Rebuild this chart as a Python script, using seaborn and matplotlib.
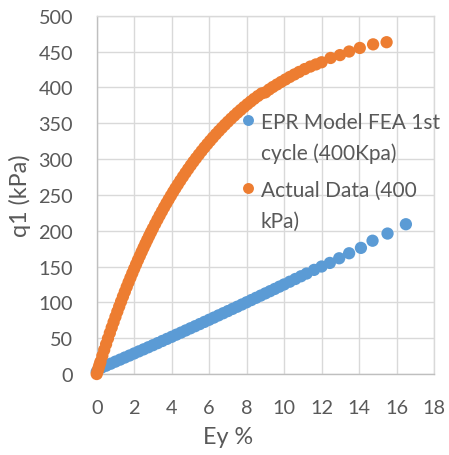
import numpy as np
import pandas as pd
import matplotlib
matplotlib.use("Agg")
import matplotlib.pyplot as plt
from matplotlib.legend_handler import HandlerPathCollection
import seaborn as sns

# EPR model (FEA, 1st cycle, 400 kPa): strain Ey (%) and deviator stress q1 (kPa)
epr_strain = [0.0, 0.25, 0.5, 0.75, 1.0, 1.25, 1.5, 1.75, 2.0, 2.25, 2.5, 2.75,
              3.0, 3.25, 3.5, 3.75, 4.0, 4.25, 4.5, 4.75, 5.0, 5.25, 5.5, 5.75,
              6.0, 6.25, 6.5, 6.75, 7.0, 7.25, 7.5, 7.75, 8.0, 8.25, 8.5, 8.75,
              9.0, 9.25, 9.5, 9.75, 10.0, 10.3, 10.6, 10.9, 11.2, 11.6, 12.0,
              12.44, 12.94, 13.47, 14.1, 14.72, 15.52, 16.5]
epr_q = [3.0, 8.8, 11.6, 14.4, 17.3, 20.1, 23.0, 25.8, 28.7, 31.6, 34.4, 37.3,
         40.2, 43.1, 46.1, 49.0, 51.9, 54.9, 57.8, 60.8, 63.8, 66.7, 69.7, 72.7,
         75.7, 78.7, 81.8, 84.8, 87.8, 90.9, 93.9, 97.0, 100.1, 103.2, 106.3, 109.4,
         112.5, 115.6, 118.7, 121.9, 125.0, 128.8, 132.6, 136.4, 140.2, 145.3, 150.0,
         155.0, 161.5, 168.5, 176.0, 186.0, 196.0, 209.0]

# Measured response (400 kPa)
actual_strain = [0.0, 0.05, 0.1, 0.15, 0.2, 0.3, 0.4, 0.5, 0.6, 0.7, 0.8, 0.9,
                 1.0, 1.1, 1.2, 1.3, 1.4, 1.5, 1.6, 1.7, 1.8, 1.9, 2.0, 2.1,
                 2.2, 2.3, 2.4, 2.5, 2.6, 2.7, 2.8, 2.9, 3.0, 3.12, 3.24, 3.36,
                 3.48, 3.6, 3.72, 3.84, 3.96, 4.08, 4.2, 4.33, 4.46, 4.6, 4.74,
                 4.88, 5.02, 5.16, 5.3, 5.45, 5.6, 5.75, 5.9, 6.05, 6.2, 6.36,
                 6.52, 6.68, 6.84, 7.0, 7.17, 7.34, 7.51, 7.68, 7.86, 8.04, 8.22,
                 8.4, 8.6, 8.8, 9.0, 9.2, 9.4, 9.62, 9.84, 10.07, 10.3, 10.55,
                 10.8, 11.1, 11.4, 11.7, 12.0, 12.48, 12.98, 13.47, 14.04, 14.75,
                 15.47]
actual_q = [0.0, 4.3, 8.6, 12.9, 17.1, 25.4, 33.6, 41.6, 49.5, 57.3, 64.9, 72.4,
            79.8, 87.1, 94.2, 101.2, 108.1, 114.8, 121.5, 128.0, 134.4, 140.7, 146.9, 153.0,
            159.0, 164.8, 170.6, 176.3, 181.9, 187.4, 192.8, 198.1, 203.3, 209.4, 215.4, 221.3,
            227.0, 232.7, 238.2, 243.6, 248.9, 254.1, 259.2, 264.5, 269.8, 275.3, 280.7,
            286.0, 291.2, 296.2, 301.1, 306.2, 311.2, 316.1, 320.8, 325.4, 329.9, 334.6,
            339.1, 343.5, 347.8, 352.0, 356.3, 360.5, 364.6, 368.5, 372.6, 376.5, 380.3,
            384.0, 387.9, 391.5, 393.0, 397.0, 400.5, 404.0, 407.5, 411.0, 414.5, 418.0,
            421.5, 425.5, 429.0, 432.0, 435.0, 441.0, 445.0, 450.0, 455.0, 460.0,
            463.0]

series_labels = ["EPR Model FEA 1st\ncycle (400Kpa)", "Actual Data (400\nkPa)"]
series_colors = ["#5B9BD5", "#ED7D31"]
x_ticks = list(range(0, 19, 2))
y_ticks = list(range(0, 501, 50))

df = pd.concat([
    pd.DataFrame({"Ey": epr_strain, "q1": epr_q, "series": series_labels[0]}),
    pd.DataFrame({"Ey": actual_strain, "q1": actual_q, "series": series_labels[1]}),
], ignore_index=True)

sns.set_theme(style="white")
plt.rcParams["font.family"] = ["Lato", "DejaVu Sans"]
text_grey = "#595959"

fig = plt.figure(figsize=(4.49, 4.56), dpi=100)
ax = fig.add_axes([0.2154, 0.1776, 0.7512, 0.7858])

sns.scatterplot(data=df, x="Ey", y="q1", hue="series", hue_order=series_labels,
                palette=series_colors, s=78, linewidth=0, legend=False,
                clip_on=False, ax=ax, zorder=3)

ax.set_xlim(0, 18)
ax.set_ylim(0, 500)
ax.set_xticks(x_ticks)
ax.set_yticks(y_ticks)
ax.grid(True, color="#D9D9D9", linewidth=1.0)
ax.set_axisbelow(True)
for side in ["left", "bottom"]:
    ax.spines[side].set_color("#BFBFBF")
    ax.spines[side].set_linewidth(1.0)
for side in ["top", "right"]:
    ax.spines[side].set_color("#D9D9D9")
    ax.spines[side].set_linewidth(1.0)

ax.tick_params(axis="both", length=0, labelsize=14.3, labelcolor=text_grey)
ax.tick_params(axis="y", pad=17)
ax.tick_params(axis="x", pad=18)

ax.set_xlabel("Ey %", fontsize=16.8, color=text_grey)
ax.set_ylabel("q1 (kPa)", fontsize=16.8, color=text_grey)
ax.xaxis.set_label_coords(0.389, -0.173)
ax.xaxis.label.set_va("center")
ax.yaxis.set_label_coords(-0.227, 0.5)
ax.yaxis.label.set_va("center")

# legend: one marker per entry, aligned with the first line of its label
handles = [ax.scatter([], [], s=62, color=c, linewidths=0) for c in series_colors]
leg = ax.legend(handles, series_labels, loc="upper left",
                bbox_to_anchor=(0.429, 0.731), frameon=False, fontsize=15.0,
                handlelength=0.6, handletextpad=0.33, borderpad=0,
                borderaxespad=0, labelspacing=0.8, labelcolor=text_grey,
                handler_map={type(handles[0]): HandlerPathCollection(yoffsets=[1.75])})
for t in leg.get_texts():
    t.set_linespacing(1.65)

fig.savefig("out.png", dpi=100)
